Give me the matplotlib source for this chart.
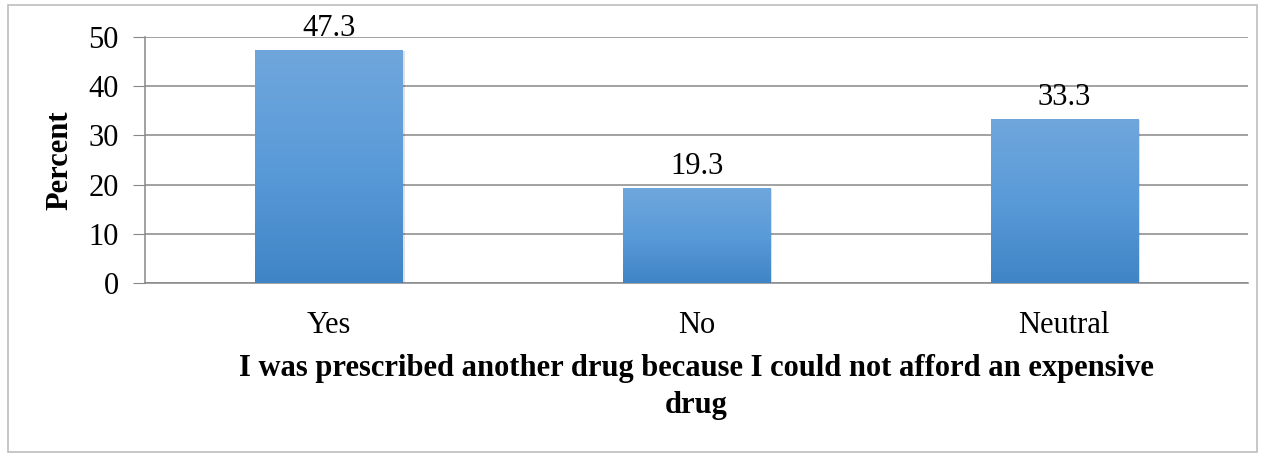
import numpy as np
import matplotlib.pyplot as plt
from matplotlib.colors import LinearSegmentedColormap
from matplotlib.patches import Rectangle

categories = ["Yes", "No", "Neutral"]
percent = [47.3, 19.3, 33.3]
yticks = [0, 10, 20, 30, 40, 50]

plt.rcParams['font.family'] = ['Liberation Serif', 'DejaVu Serif']
FS = 22

fig = plt.figure(figsize=(12.71, 4.53), dpi=100)
ax = fig.add_axes([0.1141, 0.3753, 0.8679, 0.5430])

x = np.arange(len(categories))
bars = ax.bar(x, percent, width=0.40, color='none', edgecolor='none', zorder=3)

# vertical gradient inside each bar
cmap = LinearSegmentedColormap.from_list('blue', ['#3f85c6', '#5a9ad9', '#6fa7dc'])
grad = np.linspace(0, 1, 256).reshape(-1, 1)
for b in bars:
    bx, bw, bh = b.get_x(), b.get_width(), b.get_height()
    # soft shadow
    ax.add_patch(Rectangle((bx + 0.006, 0), bw, bh - 0.2, color='#000000',
                           alpha=0.12, zorder=2, linewidth=0))
    im = ax.imshow(grad, cmap=cmap, origin='lower', aspect='auto',
                   extent=(bx, bx + bw, 0, bh), zorder=3)
    im.set_clip_path(b)
    ax.annotate(f"{bh:.1f}", (b.get_x() + bw / 2, bh), xytext=(0, 5),
                textcoords='offset points', ha='center', va='bottom', fontsize=FS)

ax.set_xlim(-0.5, len(categories) - 0.5)
ax.set_ylim(0, 50)
ax.set_yticks(yticks)
ax.set_xticks(x)
ax.set_xticklabels(categories, fontsize=FS)
ax.tick_params(axis='y', labelsize=FS, length=9, color='#888888', pad=10)
ax.tick_params(axis='x', length=0, pad=20)
ax.yaxis.grid(True, color='#888888', linewidth=1.1, zorder=0)
ax.set_axisbelow(True)
for s in ['top', 'right']:
    ax.spines[s].set_visible(False)
for s in ['left', 'bottom']:
    ax.spines[s].set_color('#888888')
    ax.spines[s].set_linewidth(1.1)

ax.set_ylabel("Percent", fontsize=FS, fontweight='bold', labelpad=10)
fig.text(0.548, 0.145, "I was prescribed another drug because I could not afford an expensive\ndrug",
         ha='center', va='center', fontsize=FS, fontweight='bold', linespacing=1.38)

# outer frame of the chart area
fig.patches.append(Rectangle((8 / 1271, 0.002), 1249 / 1271, 1 - 5 / 453 - 0.002,
                             transform=fig.transFigure, fill=False,
                             edgecolor='#bdbdbd', linewidth=1.2))

fig.savefig("out.png", dpi=100)
